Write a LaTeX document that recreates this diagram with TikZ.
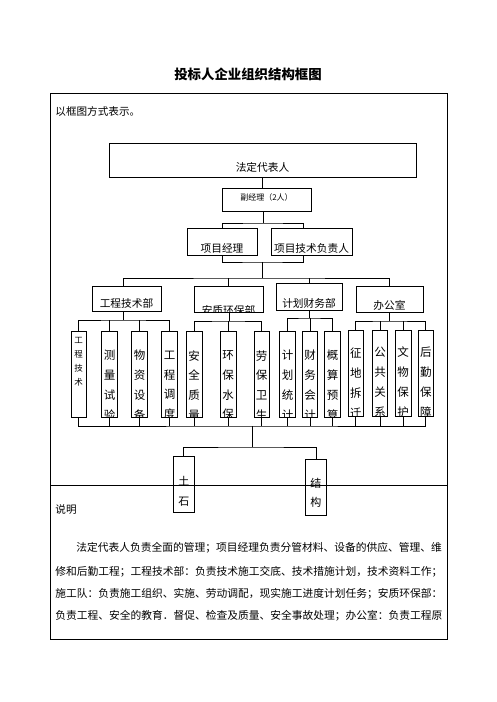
\documentclass[tikz,border=0pt]{standalone}
\usepackage{fontspec}
\setmainfont{Noto Sans CJK SC}
\usetikzlibrary{positioning}

\begin{document}
\begin{tikzpicture}[x=1pt,y=-1pt,line width=0.8pt,
box/.style={draw,inner sep=0,font=\fontsize{10.7}{12}\selectfont},
col/.style={box,minimum width=15.5,minimum height=86,font=\fontsize{11.5}{19.8}\selectfont},
txt/.style 2 args={path picture={\node[inner sep=0,align=center,yshift={-1pt*(#1)}] at (path picture bounding box.center) {#2};}},
plain/.style={inner sep=0,font=\fontsize{10.6}{12}\selectfont},
para/.style={inner sep=0,anchor=west,font=\fontsize{10.75}{12}\selectfont}
]
\useasboundingbox (0,0) rectangle (496,702);

% title and frame
\node[inner sep=0,font=\fontsize{13.4}{15}\selectfont\bfseries] (tt) at (248,74) {投标人企业组织结构框图};
\draw (50,93) rectangle (447,639);
\draw (50,485.5) -- (447,485.5);
\node[plain,anchor=west] (ms) at (55,111) {以框图方式表示。};

% top levels
\node[box,minimum width=307,minimum height=34,txt={7}{法定代表人}] (fd) at (262.5,160) {};
\node[box,minimum width=89,minimum height=23,font=\fontsize{8}{9}\selectfont,txt={-2.5}{副经理（2人）}] (fj) at (266.5,199.5) {};
\node[box,minimum width=70,minimum height=27,txt={6.5}{项目经理}] (xm) at (222,241.5) {};
\node[box,minimum width=81,minimum height=27,txt={6.5}{项目技术负责人}] (xj) at (311.5,241.5) {};

% departments
\node[box,minimum width=69,minimum height=25,txt={4.5}{工程技术部}] (d1) at (126.5,298.5) {};
\node[box,minimum width=69,minimum height=26,txt={11}{安质环保部}] (d2) at (228.5,299) {};
\node[box,minimum width=66,minimum height=27,txt={6.5}{计划财务部}] (d3) at (309,296.5) {};
\node[box,minimum width=67,minimum height=26,txt={6}{办公室}] (d4) at (389.5,299) {};

% teams
\node[col,font=\fontsize{8.5}{14}\selectfont,txt={-12.5}{工\\程\\技\\术}] (c1) at (78.7,374) {};
\node[col,txt={11.2}{测\\量\\试\\验}] (c2) at (109.5,374) {};
\node[col,txt={11.2}{物\\资\\设\\备}] (c3) at (139.5,374) {};
\node[col,txt={11.2}{工\\程\\调\\度}] (c4) at (169.5,374) {};
\node[col,txt={11.2}{安\\全\\质\\量}] (c5) at (194.2,374) {};
\node[col,txt={11.2}{环\\保\\水\\保}] (c6) at (228.2,374) {};
\node[col,txt={11.2}{劳\\保\\卫\\生}] (c7) at (261.7,374) {};
\node[col,txt={11.2}{计\\划\\统\\计}] (c8) at (287.5,374) {};
\node[col,txt={11.2}{财\\务\\会\\计}] (c9) at (310,374) {};
\node[col,txt={11.2}{概\\算\\预\\算}] (c10) at (332.5,374) {};
\node[col,txt={9.5}{征\\地\\拆\\迁}] (c11) at (355.8,373.5) {};
\node[col,txt={8.5}{公\\共\\关\\系}] (c12) at (380,373.5) {};
\node[col,txt={8.5}{文\\物\\保\\护}] (c13) at (403.2,373.5) {};
\node[col,txt={8.5}{后\\勤\\保\\障}] (c14) at (425.8,373.5) {};

% work sections
\node[col,minimum width=21,minimum height=56,font=\fontsize{11}{19.5}\selectfont,txt={6.7}{土\\石}] (ts) at (183.8,484.7) {};
\node[col,minimum width=20.3,minimum height=55.7,font=\fontsize{11}{19.5}\selectfont,txt={5.5}{结\\构}] (jg) at (315.9,487.2) {};

% connectors
\coordinate (b1) at (263,223);
\coordinate (b2) at (262,262);
\coordinate (b3) at (262,278);
\draw (fd.south) -- (fd.south |- fj.north);
\draw (b1 |- fj.south) -- (b1);
\draw (xm.north) |- (b1) -| ([xshift=-8.5]xj.north);
\draw (xm.south) |- (b2) -| ([xshift=-8.5]xj.south);
\draw (b2) -- (b3);
\draw ([xshift=-3.5]d1.north) |- (b3) -| (d4.north);
\draw (d2.north) -- (d2.north |- b3);
\draw (d3.north) -- (d3.north |- b3);

\coordinate (g1) at (123,320);
\draw (g1 |- d1.south) -- (g1);
\draw (c1.north) |- (g1) -| (c4.north);
\foreach \i in {2,3} \draw (c\i.north) -- (c\i.north |- g1);
\coordinate (g2) at (229,321);
\draw (g2 |- d2.south) -- (g2);
\draw (c5.north) |- (g2) -| (c7.north);
\draw (c6.north) -- (c6.north |- g2);
\coordinate (g3) at (309,318);
\draw (d3.south) -- (g3);
\draw (c8.north) |- (g3) -| (c10.north);
\draw (c9.north) -- (c9.north |- g3);
\coordinate (g4) at (389.5,321);
\draw (d4.south) -- (g4);
\draw (c11.north) |- (g4) -| (c14.north);
\foreach \i in {12,13} \draw (c\i.north) -- (c\i.north |- g4);

\coordinate (g5) at (252,426);
\coordinate (g6) at (252,447);
\draw (c1.south) |- (g5) -| (c14.south);
\foreach \i in {2,...,13} \draw (c\i.south) -- (c\i.south |- g5);
\draw (g5) -- (g6);
\draw (ts.north) |- (g6) -| (jg.north);

% notes
\node[plain,anchor=west] (sm) at (55,510) {说明};
\node[para] (p1) at (76,547.3) {法定代表人负责全面的管理；项目经理负责分管材料、设备的供应、管理、维};
\node[para] (p2) at (55,571.7) {修和后勤工程；工程技术部：负责技术施工交底、技术措施计划，技术资料工作；};
\node[para] (p3) at (55,594) {施工队：负责施工组织、实施、劳动调配，现实施工进度计划任务；安质环保部：};
\node[para] (p4) at (55,616) {负责工程、安全的教育．督促、检查及质量、安全事故处理；办公室：负责工程原};
\end{tikzpicture}
\end{document}
